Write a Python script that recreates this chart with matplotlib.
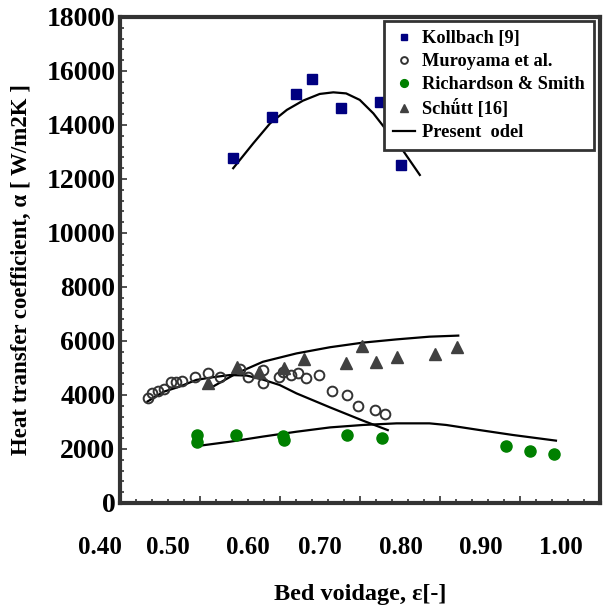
import matplotlib
matplotlib.use('Agg')
import matplotlib.pyplot as plt
import matplotlib.transforms as mtransforms
import numpy as np

# Kollbach [9]
kol_eps = [0.542, 0.590, 0.620, 0.640, 0.676, 0.725, 0.752]
kol_alpha = [12780, 14300, 15150, 15700, 14630, 14850, 12520]

# Muroyama et al.
mur_eps = [0.435, 0.441, 0.448, 0.456, 0.464, 0.471, 0.478, 0.494, 0.511, 0.526,
           0.550, 0.561, 0.579, 0.579, 0.599, 0.604, 0.614, 0.623, 0.633, 0.649,
           0.665, 0.684, 0.698, 0.719, 0.732]
mur_alpha = [3900, 4085, 4150, 4210, 4490, 4470, 4520, 4680, 4800, 4680,
             4950, 4680, 4930, 4430, 4680, 4860, 4740, 4800, 4620, 4740,
             4150, 4000, 3590, 3440, 3300]

# Richardson & Smith
ric_eps = [0.497, 0.497, 0.545, 0.604, 0.605, 0.684, 0.728, 0.882, 0.913, 0.942]
ric_alpha = [2520, 2260, 2520, 2500, 2350, 2520, 2400, 2110, 1930, 1800]

# Schutt [16]
sch_eps = [0.510, 0.547, 0.574, 0.606, 0.630, 0.683, 0.703, 0.720, 0.746, 0.794, 0.821]
sch_alpha = [4430, 5050, 4860, 4990, 5320, 5170, 5820, 5230, 5400, 5520, 5770]

# Present model curves
mod_kol_eps = [0.542, 0.567, 0.588, 0.609, 0.629, 0.650, 0.667, 0.683, 0.700,
               0.717, 0.733, 0.752, 0.775]
mod_kol_alpha = [12400, 13320, 14060, 14560, 14900, 15150, 15210, 15170, 14930,
                 14430, 13820, 13140, 12150]
mod_mur_eps = [0.435, 0.455, 0.475, 0.496, 0.517, 0.538, 0.559, 0.579, 0.600,
               0.621, 0.663, 0.704, 0.735]
mod_mur_alpha = [3760, 4120, 4310, 4560, 4660, 4740, 4720, 4570, 4370,
                 4060, 3540, 3050, 2700]
mod_sch_eps = [0.513, 0.546, 0.579, 0.621, 0.663, 0.704, 0.746, 0.787, 0.823]
mod_sch_alpha = [4250, 4800, 5230, 5540, 5770, 5940, 6060, 6160, 6200]
mod_ric_eps = [0.497, 0.538, 0.579, 0.621, 0.663, 0.704, 0.746, 0.787, 0.808,
               0.850, 0.891, 0.945]
mod_ric_alpha = [2110, 2270, 2460, 2640, 2800, 2890, 2950, 2950, 2890,
                 2700, 2520, 2310]

x_ticks = [0.40, 0.50, 0.60, 0.70, 0.80, 0.90, 1.00]
x_labels = ['0.40', '0.50', '0.60', '0.70', '0.80', '0.90', '1.00']
# the printed labels sit left of their ticks in the original (pixels)
x_label_shift = [-20, -32, -32, -40, -39, -39, -39]
y_ticks = np.arange(0, 18001, 2000)

plt.rcParams['font.family'] = ['Liberation Serif', 'DejaVu Serif']
plt.rcParams['font.weight'] = 'bold'

fig = plt.figure(figsize=(6.08, 6.06), dpi=100)
ax = fig.add_axes([119.5 / 608, 1 - 503 / 606, 480.5 / 608, 486 / 606])

ax.plot(kol_eps, kol_alpha, 's', color='#000080', markersize=6.5, label='Kollbach [9]', zorder=3)
ax.plot(mur_eps, mur_alpha, 'o', mfc='none', mec='#333333', mew=1.4, markersize=7,
        label='Muroyama et al.', zorder=3)
ax.plot(ric_eps, ric_alpha, 'o', color='#008000', markersize=8, label='Richardson & Smith', zorder=3)
ax.plot(sch_eps, sch_alpha, '^', color='#404040', markersize=9, label='Schǘtt [16]', zorder=3)

ax.plot(mod_kol_eps, mod_kol_alpha, '-', color='black', lw=1.6, label='Present  odel')
ax.plot(mod_mur_eps, mod_mur_alpha, '-', color='black', lw=1.6)
ax.plot(mod_sch_eps, mod_sch_alpha, '-', color='black', lw=1.6)
ax.plot(mod_ric_eps, mod_ric_alpha, '-', color='black', lw=1.6)

ax.set_xlim(0.4, 1.0)
ax.set_ylim(0, 18000)
ax.set_xticks(x_ticks)
ax.set_xticklabels(x_labels)
ax.set_xticks(np.arange(0.40, 1.001, 0.02), minor=True)
ax.set_yticks(y_ticks)
ax.set_yticks(np.arange(0, 18001, 400), minor=True)
ax.tick_params(axis='both', which='both', direction='in', color='#333333', width=1.2)
ax.tick_params(axis='both', which='major', length=5)
ax.tick_params(axis='x', which='major', labelsize=18, pad=24)
ax.tick_params(axis='y', which='major', labelsize=20, pad=3)
ax.tick_params(axis='both', which='minor', length=3)

for tick, dx in zip(ax.xaxis.get_major_ticks(), x_label_shift):
    lab = tick.label1
    lab.set_transform(lab.get_transform() +
                      mtransforms.ScaledTranslation(dx / 100, 0, fig.dpi_scale_trans))

for sp in ax.spines.values():
    sp.set_linewidth(3)
    sp.set_color('#333333')

ax.set_xlabel('Bed voidage, ε[-]', fontsize=17.5, fontweight='bold', labelpad=18)
ax.set_ylabel('Heat transfer coefficient, α [ W/m2K ]', fontsize=16.5, fontweight='bold')
ax.yaxis.set_label_coords(-0.183, 0.48)

leg = ax.legend(loc='upper right', bbox_to_anchor=(0.988, 0.992), borderaxespad=0,
                fancybox=False, framealpha=1, edgecolor='#333333', fontsize=13.2,
                handlelength=1.2, handletextpad=0.4, labelspacing=0.33, markerscale=0.7,
                borderpad=0.5)
leg.get_frame().set_linewidth(2)
leg.set_zorder(5)

fig.savefig('out.png', dpi=100)
